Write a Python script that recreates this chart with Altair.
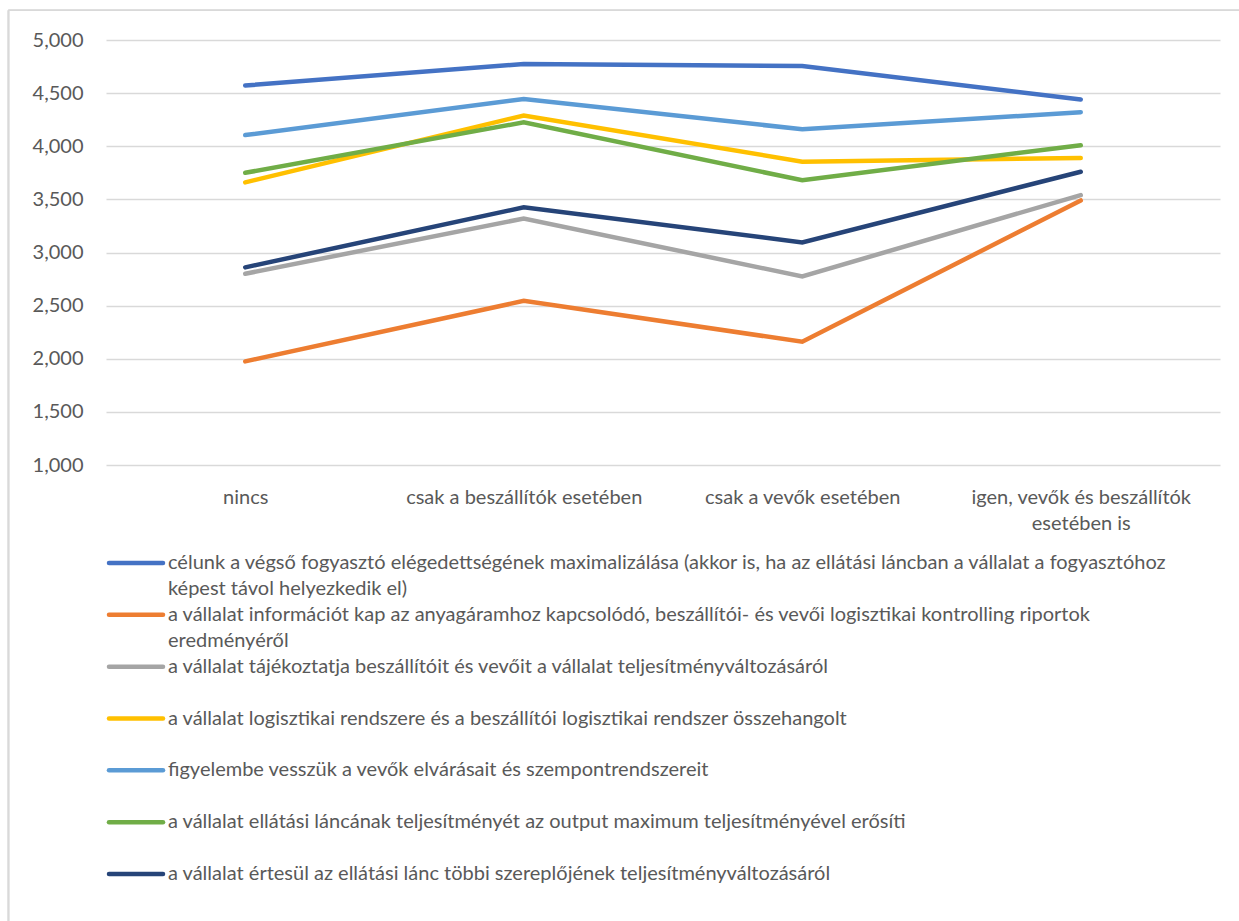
import altair as alt
import pandas as pd

categories = ["nincs", "csak a beszállítók esetében", "csak a vevők esetében",
              "igen, vevők és beszállítók esetében is"]

series_lines = [
    ["célunk a végső fogyasztó elégedettségének maximalizálása (akkor is, ha az ellátási láncban a vállalat a fogyasztóhoz",
     "képest távol helyezkedik el)"],
    ["a vállalat információt kap az anyagáramhoz kapcsolódó, beszállítói- és vevői logisztikai kontrolling riportok",
     "eredményéről"],
    ["a vállalat tájékoztatja beszállítóit és vevőit a vállalat teljesítményváltozásáról"],
    ["a vállalat logisztikai rendszere és a beszállítói logisztikai rendszer összehangolt"],
    ["figyelembe vesszük a vevők elvárásait és szempontrendszereit"],
    ["a vállalat ellátási láncának teljesítményét az output maximum teljesítményével erősíti"],
    ["a vállalat értesül az ellátási lánc többi szereplőjének teljesítményváltozásáról"],
]

s1 = [4572, 4774, 4755, 4440]
s2 = [1975, 2545, 2160, 3490]
s3 = [2800, 3320, 2775, 3540]
s4 = [3660, 4290, 3855, 3890]
s5 = [4105, 4445, 4160, 4320]
s6 = [3750, 4225, 3680, 4010]
s7 = [2860, 3425, 3095, 3760]
values = [s1, s2, s3, s4, s5, s6, s7]

colors = ["#4472C4", "#ED7D31", "#A5A5A5", "#FFC000", "#5B9BD5", "#70AD47", "#264478"]

y_ticks = [1000, 1500, 2000, 2500, 3000, 3500, 4000, 4500, 5000]

FONT = "Lato"
TXT = "#595959"
FS = 20

names = [" ".join(l) for l in series_lines]

rows = []
for i, (n, vals) in enumerate(zip(names, values)):
    for c, v in zip(categories, vals):
        rows.append({"series": n, "order": i, "category": c, "value": v})
df = pd.DataFrame(rows)

label_expr = ("datum.value == 'igen, vevők és beszállítók esetében is' ? "
              "['igen, vevők és beszállítók', 'esetében is'] : datum.value")

color_enc = alt.Color("series:N", sort=names,
                      scale=alt.Scale(domain=names, range=colors), legend=None)

lines = alt.Chart(df).mark_line(strokeWidth=4.5, strokeCap="round", strokeJoin="miter").encode(
    x=alt.X("category:N", sort=categories, title=None,
            scale=alt.Scale(type="point", padding=0.5),
            axis=alt.Axis(labelExpr=label_expr, labelAngle=0, ticks=False, domain=False,
                          grid=False, labelFont=FONT, labelFontSize=FS, labelColor=TXT,
                          labelPadding=22, labelLineHeight=26, labelBaseline="top",
                          labelLimit=1000)),
    y=alt.Y("value:Q", title=None,
            scale=alt.Scale(domain=[1000, 5000], nice=False, zero=False),
            axis=alt.Axis(values=y_ticks, format=",.0f", ticks=False, domain=False,
                          gridColor="#D9D9D9", gridWidth=1.3, labelFont=FONT,
                          labelFontSize=FS, labelColor=TXT, labelPadding=23)),
    color=color_enc,
    order=alt.Order("order:Q"),
)

leg_rows = []
for i, (n, l) in enumerate(zip(names, series_lines)):
    leg_rows.append({"series": n, "idx": i, "line1": l[0],
                     "line2": l[1] if len(l) > 1 else ""})
ldf = pd.DataFrame(leg_rows)

ybase = alt.Y("idx:O", axis=None,
              scale=alt.Scale(type="point", range=[523, 834], padding=0))

leg_sym = alt.Chart(ldf).mark_rule(strokeWidth=4.5, strokeCap="round").encode(
    x=alt.value(3), x2=alt.value(57), y=ybase, color=color_enc,
)
leg_t1 = alt.Chart(ldf).mark_text(align="left", baseline="middle", font=FONT,
                                  fontSize=FS, color=TXT).encode(
    x=alt.value(62), y=ybase, text="line1:N")
leg_t2 = alt.Chart(ldf).mark_text(align="left", baseline="middle", font=FONT,
                                  fontSize=FS, color=TXT, dy=26).encode(
    x=alt.value(62), y=ybase, text="line2:N")

frame_top = alt.Chart(ldf).mark_rule(color="#D9D9D9", strokeWidth=1.3).encode(
    x=alt.value(-97.5), x2=alt.value(1133), y=alt.value(-29.7))
frame_left = alt.Chart(ldf).mark_rule(color="#D9D9D9", strokeWidth=1.3).encode(
    x=alt.value(-97.5), y=alt.value(-29.7), y2=alt.value(881))

chart = alt.layer(frame_top, frame_left, lines, leg_sym, leg_t1, leg_t2).resolve_scale(
    y="independent"
).properties(
    width=1114, height=425,
    padding={"left": 106, "top": 40, "right": 19, "bottom": 456},
    autosize=alt.AutoSizeParams(type="none"),
).configure(background="white").configure_view(strokeWidth=0)

chart.save("out.html", embed_options={"renderer": "svg", "actions": False})
